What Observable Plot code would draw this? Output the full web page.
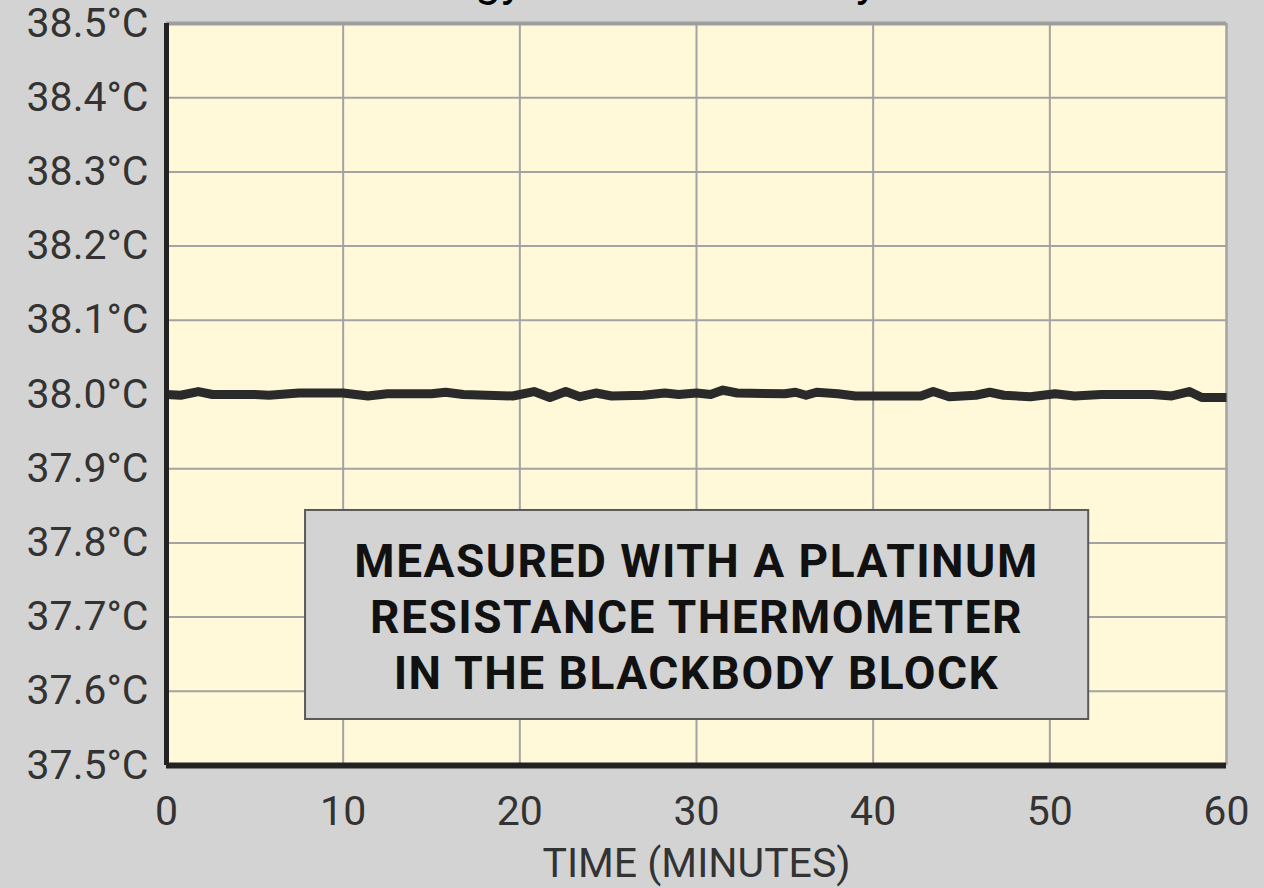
<!DOCTYPE html>
<html>
<head>
<meta charset="utf-8">
<script src="https://cdn.jsdelivr.net/npm/d3@7"></script>
<script src="https://cdn.jsdelivr.net/npm/@observablehq/plot@0.6"></script>
<style>
  html, body { margin: 0; padding: 0; background: #d3d3d3; overflow: hidden; }
  #wrap { position: relative; width: 1264px; height: 888px; overflow: hidden; }
  #title { position: absolute; left: 0; width: 1264px; top: -43px; text-align: center;
           font-family: Roboto, sans-serif; font-size: 46px; line-height: 1; color: #000; margin: 0; font-weight: 400; }
  #chart { position: absolute; left: 0; top: 0; }
</style>
</head>
<body>
<div id="wrap">
  <div id="chart"></div>
  <div id="title">Technology Thermal Stability Test</div>
</div>
<script>
// Data
const minutes = [0, 0.8, 1.8, 2.6, 5.0, 5.8, 7.5, 10.0, 11.4, 12.5, 15.0, 15.8, 16.8, 19.6, 20.8, 21.7, 22.6, 23.4, 24.3, 25.2, 27.0, 28.2, 29.0, 30.0, 30.8, 31.5, 32.3, 35.0, 35.6, 36.2, 36.8, 38.0, 39.0, 42.7, 43.4, 44.3, 45.8, 46.6, 47.4, 48.9, 50.3, 51.4, 52.9, 55.8, 56.9, 57.9, 58.6, 60.0];
const temperature = [38.000, 37.999, 38.004, 38.000, 38.000, 37.999, 38.002, 38.002, 37.998, 38.001, 38.001, 38.003, 38.000, 37.998, 38.004, 37.996, 38.004, 37.997, 38.002, 37.998, 37.999, 38.002, 38.000, 38.002, 38.000, 38.006, 38.002, 38.001, 38.003, 37.999, 38.003, 38.001, 37.998, 37.998, 38.004, 37.997, 37.999, 38.003, 37.999, 37.997, 38.001, 37.998, 38.000, 38.000, 37.998, 38.004, 37.996, 37.996];
const xTicks = [0, 10, 20, 30, 40, 50, 60];
const yTicks = [37.5, 37.6, 37.7, 37.8, 37.9, 38.0, 38.1, 38.2, 38.3, 38.4, 38.5];
const xLabel = "TIME (MINUTES)";
const noteLines = ["MEASURED WITH A PLATINUM", "RESISTANCE THERMOMETER", "IN THE BLACKBODY BLOCK"];
const noteBox = {x1: 7.87, x2: 52.2, y1: 37.562, y2: 37.8437, cx: 30.0, cy: 37.703};

const series = minutes.map((m, i) => ({t: m, v: temperature[i]}));

const chart = Plot.plot({
  width: 1264,
  height: 888,
  marginTop: 23,
  marginRight: 38,
  marginBottom: 123,
  marginLeft: 166,
  style: {background: "#d3d3d3", fontFamily: "Roboto, sans-serif", color: "#333", overflow: "visible"},
  x: {domain: [0, 60]},
  y: {domain: [37.5, 38.5]},
  marks: [
    Plot.frame({fill: "#fff9da", stroke: null}),
    Plot.gridX(xTicks, {stroke: "#a3a3a3", strokeWidth: 2, strokeOpacity: 1}),
    Plot.gridY(yTicks, {stroke: "#a3a3a3", strokeWidth: 2, strokeOpacity: 1}),
    Plot.ruleY([38.5], {stroke: "#9e9e9e", strokeWidth: 4}),
    Plot.ruleX([60], {stroke: "#a3a3a3", strokeWidth: 2}),
    Plot.line(series, {x: "t", y: "v", stroke: "#2a2a2a", strokeWidth: 9, strokeLinejoin: "round", strokeLinecap: "butt"}),
    Plot.rect([noteBox], {x1: "x1", x2: "x2", y1: "y1", y2: "y2", fill: "#d3d3d3", stroke: "#5a5a5a", strokeWidth: 2}),
    Plot.text([noteLines.join("\n")], {x: () => noteBox.cx, y: () => noteBox.cy, fontSize: 46, fontWeight: "bold", fill: "#111", lineHeight: 1.22, textAnchor: "middle"}),
    Plot.ruleX([0], {stroke: "#222", strokeWidth: 5}),
    Plot.ruleY([37.5], {stroke: "#222", strokeWidth: 6}),
    Plot.axisY(yTicks, {tickSize: 0, tickPadding: 18, fontSize: 41, tickFormat: d => d.toFixed(1) + "°C", label: null, fill: "#333"}),
    Plot.axisX(xTicks, {tickSize: 0, tickPadding: 30, fontSize: 41, label: null, fill: "#333"}),
    Plot.text([xLabel], {frameAnchor: "bottom", dy: 111, fontSize: 41, fill: "#333"})
  ]
});
document.getElementById("chart").appendChild(chart);
// letter spacing for the note
chart.querySelectorAll("text").forEach(t => {
  if (t.textContent.startsWith("MEASURED")) t.setAttribute("letter-spacing", "1.5");
});
</script>
</body>
</html>
